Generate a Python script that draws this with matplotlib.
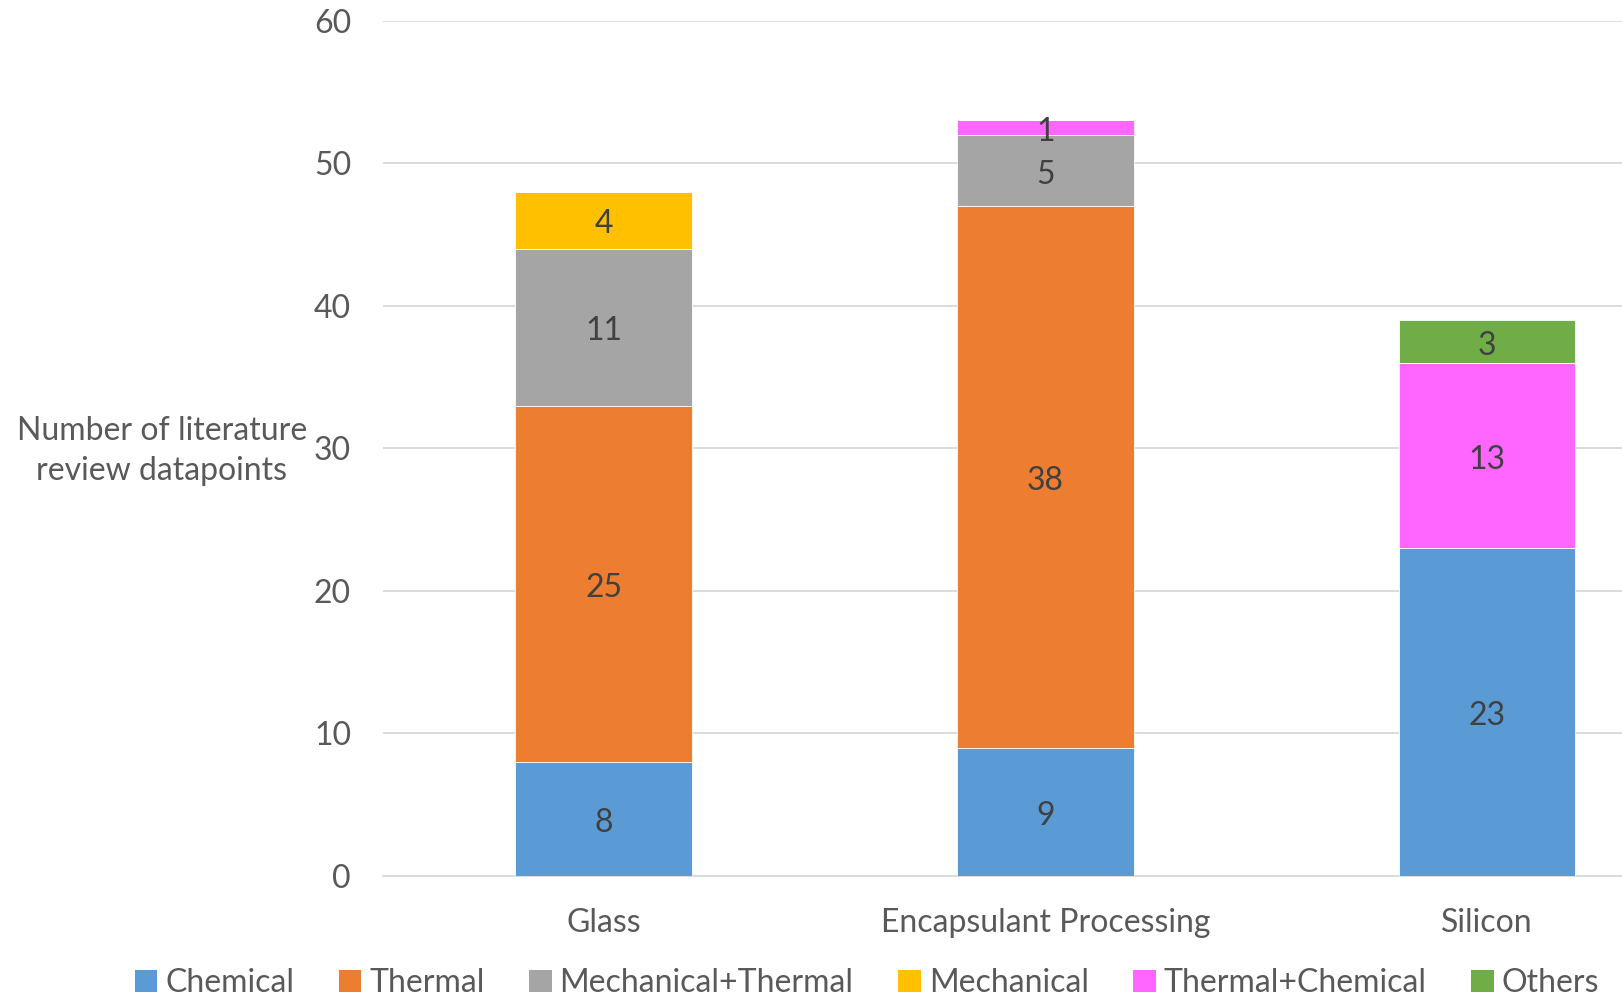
import matplotlib
matplotlib.use("Agg")
import matplotlib.pyplot as plt
import matplotlib.transforms as mtransforms
import numpy as np

categories = ["Glass", "Encapsulant Processing", "Silicon"]
series_names = ["Chemical", "Thermal", "Mechanical+Thermal", "Mechanical",
                "Thermal+Chemical", "Others"]
chemical = [8, 9, 23]
thermal = [25, 38, 0]
mech_thermal = [11, 5, 0]
mechanical = [4, 0, 0]
thermal_chemical = [0, 1, 13]
others = [0, 0, 3]
series_values = [chemical, thermal, mech_thermal, mechanical, thermal_chemical, others]
colors = ["#5B9BD5", "#ED7D31", "#A5A5A5", "#FFC000", "#FF66FF", "#70AD47"]
y_ticks = [0, 10, 20, 30, 40, 50, 60]

plt.rcParams['font.family'] = ['Lato', 'DejaVu Sans']
FS = 23
TXT = "#595959"

fig = plt.figure(figsize=(16.22, 9.97), dpi=100)
ax = fig.add_axes([383 / 1622, 121 / 997, 1 - 383 / 1622, (876 - 20.7) / 997])

label_shift = mtransforms.ScaledTranslation(0, -3 / 72, fig.dpi_scale_trans)

x = np.arange(len(categories))
bottom = np.zeros(len(categories))
handles = []
for name, vals, col in zip(series_names, series_values, colors):
    vals = np.array(vals, dtype=float)
    bars = ax.bar(x, vals, width=0.4, bottom=bottom, color=col, label=name,
                  edgecolor="white", linewidth=0.6, zorder=3)
    handles.append(bars)
    for xi, v, b in zip(x, vals, bottom):
        if v > 0:
            ax.text(xi, b + v / 2, f"{int(v)}", ha="center", va="center",
                    fontsize=FS, color="#404040", zorder=4,
                    transform=ax.transData + label_shift)
    bottom += vals

ax.set_xlim(-0.5, 2.306)
ax.set_ylim(0, 60)
ax.set_yticks(y_ticks)
ax.set_yticklabels([str(t) for t in y_ticks])
ax.set_xticks(x)
ax.set_xticklabels(categories)
ax.tick_params(axis="both", length=0, labelsize=FS, labelcolor=TXT)
ax.tick_params(axis="y", pad=23)
ax.tick_params(axis="x", pad=23)
ax.yaxis.grid(True, color="#D9D9D9", linewidth=1.3, zorder=0)
ax.set_axisbelow(True)
for s in ["top", "right", "left"]:
    ax.spines[s].set_visible(False)
ax.spines["bottom"].set_color("#D9D9D9")
ax.spines["bottom"].set_linewidth(1.3)

fig.text(162 / 1622, 1 - 451 / 997, "Number of literature\nreview datapoints",
         ha="center", va="center", fontsize=FS, color=TXT, linespacing=1.45)

leg = fig.legend(handles=handles, labels=series_names, loc="center",
                 bbox_to_anchor=(867 / 1622, 1 - 983 / 997), ncol=6,
                 frameon=False, fontsize=FS, labelcolor=TXT,
                 handlelength=0.7, handleheight=0.7, handletextpad=0.25,
                 columnspacing=1.4)
for h in leg.legend_handles:
    h.set_edgecolor("none")

fig.savefig("out.png", dpi=100)
